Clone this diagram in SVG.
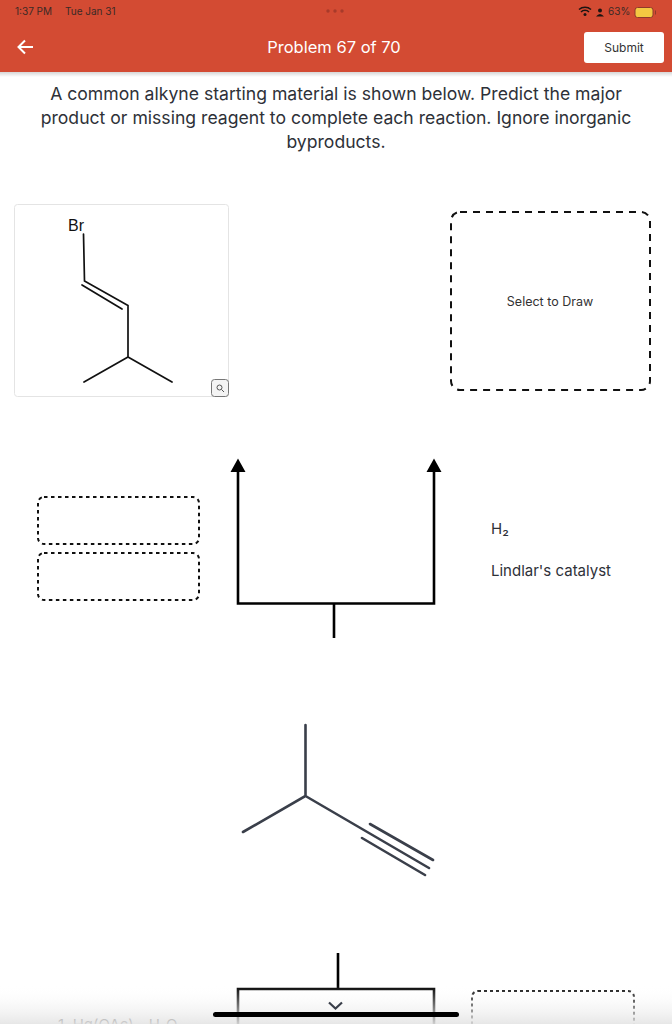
<svg xmlns="http://www.w3.org/2000/svg" width="672" height="1024" viewBox="0 0 672 1024">
<style>
text{font-family:Inter,"Liberation Sans",sans-serif}
.q{font-size:17.6px;fill:#2e3138;text-anchor:middle}
.st{font-size:10px;fill:#3a2a26}
.dash{fill:none;stroke:#111;stroke-width:2}
.mol{fill:none;stroke:#111;stroke-width:1.7;stroke-linecap:round}
.alk{fill:none;stroke:#3a3f4a;stroke-width:2.6;stroke-linecap:round}
.conn{fill:none;stroke:#000;stroke-width:2.6}
.lab{font-size:15px;fill:#2e3138}
</style>
<defs>
<linearGradient id="fade" x1="0" y1="0" x2="0" y2="1"><stop offset="0" stop-color="#fff" stop-opacity="0"/><stop offset="1" stop-color="#e4e4e4" stop-opacity=".9"/></linearGradient>
<linearGradient id="sh" x1="0" y1="0" x2="0" y2="1"><stop offset="0" stop-color="#000" stop-opacity=".16"/><stop offset="1" stop-color="#000" stop-opacity="0"/></linearGradient>
</defs>
<rect width="672" height="1024" fill="#fff"/>
<g id="header">
<rect y="72" width="672" height="5" fill="url(#sh)"/>
<rect width="672" height="72" fill="#d34b33"/>
<text x="15" y="14.500" class="st">1:37 PM</text>
<text x="65" y="14.500" class="st">Tue Jan 31</text>
<circle cx="328" cy="11" r="1.700" fill="#a83a2a"/><circle cx="335" cy="11" r="1.700" fill="#a83a2a"/><circle cx="342" cy="11" r="1.700" fill="#a83a2a"/>
<path d="M579 9.500a9 9 0 0 1 12 0M581 12a5.500 5.500 0 0 1 8 0" fill="none" stroke="#1c1412" stroke-width="1.500"/><circle cx="585" cy="14.500" r="1.500" fill="#1c1412"/>
<circle cx="600" cy="10.500" r="2" fill="#1c1412"/><path d="M596 16.500q4-5 8 0z" fill="#1c1412"/>
<text x="608" y="14.500" class="st">63%</text>
<rect x="635" y="7.500" width="18" height="10" rx="2.500" fill="#f4c842" stroke="#8f3a2a"/>
<path d="M655.500 10.500v4" stroke="#8f3a2a" stroke-width="1"/>
<path d="M33 47H19M25 40.500 18.500 47l6.500 6.500" fill="none" stroke="#fff" stroke-width="2"/>
<text x="334" y="53" font-size="16.500" fill="#fff" text-anchor="middle">Problem 67 of 70</text>
<rect x="584" y="32" width="80" height="31" rx="3" fill="#fff"/>
<text x="624" y="52" font-size="12" fill="#333" text-anchor="middle">Submit</text>
</g>
<g id="question">
<text x="336" y="100" class="q">A common alkyne starting material is shown below. Predict the major</text>
<text x="336" y="124" class="q">product or missing reagent to complete each reaction. Ignore inorganic</text>
<text x="336" y="148" class="q">byproducts.</text>
</g>
<g id="start-molecule">
<rect x="14.500" y="204.500" width="214" height="192" rx="3" fill="#fff" stroke="#e4e4e4"/>
<text x="68" y="231" font-size="16" fill="#111" style="font-family:'Liberation Sans',sans-serif">Br</text>
<path class="mol" d="M83.500 234 84.500 281 128 305.500V357M128 357 84 382M128 357 172 382M82 285 122 309"/>
<rect x="211.500" y="379.500" width="17" height="17" rx="3" fill="#f4f4f4" stroke="#777"/>
<circle cx="219.500" cy="387.500" r="2.500" fill="none" stroke="#555"/><path d="M221.500 389.500 224 392" stroke="#555"/>
</g>
<g id="draw-box">
<rect x="451" y="212" width="199" height="178" rx="9" class="dash" stroke-dasharray="7 6"/>
<text x="550" y="306" font-size="12.500" fill="#333" text-anchor="middle">Select to Draw</text>
</g>
<g id="slot-1"><rect x="38" y="497" width="161" height="47" rx="6" class="dash" stroke-dasharray="3.500 3.500"/></g>
<g id="slot-2"><rect x="38" y="553" width="161" height="47" rx="6" class="dash" stroke-dasharray="3.500 3.500"/></g>
<g id="connectors">
<path class="conn" d="M238 470V603.500H434V470M334 603.500V638"/>
<path d="M238 458.500 230.500 472H245.500zM434 458.500 426.500 472H441.500z" fill="#000"/>
<path class="conn" d="M338 953V989M238 1024V989H434V1024"/>
</g>
<g id="reagents">
<text x="491" y="534" class="lab">H₂</text>
<text x="491" y="576" class="lab">Lindlar's catalyst</text>
</g>
<g id="alkyne">
<path class="alk" d="M305.500 725V796L243 832M305.500 796 429 868M370 824 433 860M362 838 425 875"/>
</g>
<g id="slot-3"><rect x="472" y="991" width="162" height="60" rx="6" class="dash" stroke-dasharray="3 3"/></g>
<g id="bottom-fade">
<text x="58" y="1030" font-size="15" fill="#333">1. Hg(OAc)₂, H₂O</text>
<rect y="985" width="672" height="39" fill="url(#fade)"/>
<path d="M329 1002.500 335.500 1008.500 342 1002.500" fill="none" stroke="#3a3f4a" stroke-width="2.200"/>
<rect x="213" y="1012" width="246" height="5" rx="2.500" fill="#000"/>
</g>
</svg>
